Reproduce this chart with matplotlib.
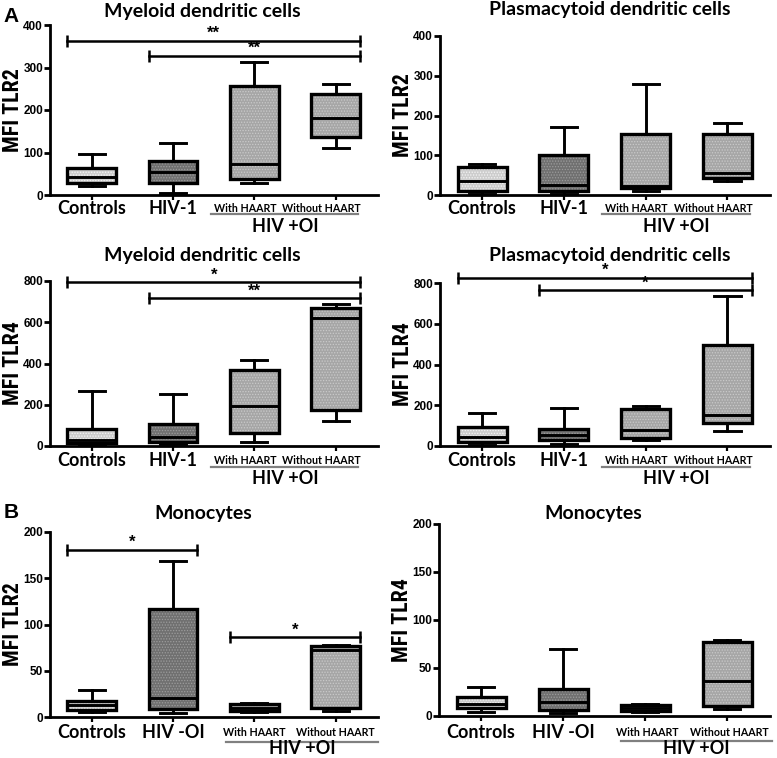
import matplotlib
matplotlib.use("Agg")
import matplotlib.pyplot as plt
from matplotlib.transforms import ScaledTranslation
from matplotlib import font_manager

W, H = 777, 758
fig = plt.figure(figsize=(W / 100, H / 100), dpi=100)

def fx(px):
    return px / W

def fy(py):
    return 1 - py / H

# ---------------- data ----------------
groups_dc = ["Controls", "HIV-1", "With HAART", "Without HAART"]
groups_mono = ["Controls", "HIV -OI", "With HAART", "Without HAART"]

# panel A1: myeloid DC, TLR2
mdc_tlr2_lo = [21, 4, 29, 110]
mdc_tlr2_q1 = [29, 29, 37, 137]
mdc_tlr2_med = [43, 53, 73, 182]
mdc_tlr2_q3 = [63, 81, 256, 237]
mdc_tlr2_hi = [96, 122, 313, 261]

# panel A2: plasmacytoid DC, TLR2
pdc_tlr2_lo = [3, 3, 11, 34]
pdc_tlr2_q1 = [11, 11, 17, 42]
pdc_tlr2_med = [35, 25, 23, 55]
pdc_tlr2_q3 = [71, 100, 153, 153]
pdc_tlr2_hi = [77, 172, 278, 180]

# panel A3: myeloid DC, TLR4
mdc_tlr4_lo = [5, 10, 21, 121]
mdc_tlr4_q1 = [13, 18, 61, 174]
mdc_tlr4_med = [29, 45, 195, 622]
mdc_tlr4_q3 = [82, 105, 368, 670]
mdc_tlr4_hi = [268, 252, 417, 688]

# panel A4: plasmacytoid DC, TLR4
pdc_tlr4_lo = [5, 8, 29, 73]
pdc_tlr4_q1 = [18, 29, 38, 114]
pdc_tlr4_med = [46, 55, 78, 152]
pdc_tlr4_q3 = [95, 82, 180, 498]
pdc_tlr4_hi = [163, 188, 198, 736]

# panel B1: monocytes, TLR2
mono_tlr2_lo = [5.4, 4.3, 5.4, 7]
mono_tlr2_q1 = [8, 9, 7, 10]
mono_tlr2_med = [12.6, 21, 10, 72]
mono_tlr2_q3 = [17, 117, 13.7, 77]
mono_tlr2_hi = [29.5, 169, 15.5, 78]

# panel B2: monocytes, TLR4
mono_tlr4_lo = [4.5, 3, 4.5, 7.3]
mono_tlr4_q1 = [8, 6, 5.6, 10]
mono_tlr4_med = [13, 15, 8, 36]
mono_tlr4_q3 = [20, 28.5, 11.5, 77]
mono_tlr4_hi = [30.6, 69.6, 13, 79]

# significance brackets: (from group, to group, height, label)
sig_mdc_tlr2 = [(0, 3, 363, "**"), (1, 3, 328, "**")]
sig_mdc_tlr4 = [(0, 3, 793, "*"), (1, 3, 716, "**")]
sig_pdc_tlr4 = [(0, 3, 826, "*"), (1, 3, 764, "*")]
sig_mono_tlr2 = [(0, 1, 181, "*"), (2, 3, 86, "*")]

yticks_400 = [0, 100, 200, 300, 400]
yticks_800 = [0, 200, 400, 600, 800]
yticks_200 = [0, 50, 100, 150, 200]

# ---------------- styling ----------------
box_faces = ["#cdcdcd", "#707070", "#a6a6a6", "#a6a6a6"]
hatch_cols = ["#f4f4f4", "#9c9c9c", "#cacaca", "#cacaca"]
plt.rcParams["hatch.linewidth"] = 0.6

ARIAL = ["Liberation Sans", "DejaVu Sans"]
LAB_FONT = ["Lato", "DejaVu Sans"]

_installed = {f.name for f in font_manager.fontManager.ttflist}
NARROW = ARIAL
for cand in ["Liberation Sans Narrow", "DejaVu Sans Condensed", "Roboto Condensed"]:
    if cand in _installed:
        NARROW = [cand, "DejaVu Sans"]
        break

# size the y-axis label so that it is ~84 px long, like the reference
_r = fig.canvas.get_renderer()
_probe = fig.text(0, 0, "MFI TLR2", fontsize=16, fontweight="bold", family=NARROW)
_w = _probe.get_window_extent(_r).width
_probe.remove()
YLAB_SIZE = min(17.5, 16 * 84 / _w)


def panel(rect_px, lo, q1, med, q3, hi, labels, yticks, ylabel,
          sigs, ol_span, ol_off, lab_off, small_shift, title, title_px):
    left, top, right, bottom = rect_px
    ax = fig.add_axes([fx(left), fy(bottom), fx(right - left), (bottom - top) / H])
    stats = []
    for i in range(len(labels)):
        stats.append(dict(whislo=lo[i], q1=q1[i], med=med[i], q3=q3[i], whishi=hi[i]))
    bp = ax.bxp(stats, positions=range(len(labels)), widths=0.6,
                showfliers=False, patch_artist=True,
                boxprops=dict(linewidth=2.4, edgecolor="black"),
                whiskerprops=dict(linewidth=2.1, color="black"),
                capprops=dict(linewidth=2.1, color="black"),
                medianprops=dict(linewidth=2.1, color="black"),
                capwidths=0.32)
    for i, b in enumerate(bp["boxes"]):
        b.set_facecolor(box_faces[i])
        b.set_hatch("......")
        b.set_edgecolor("black")
        b._hatch_color = matplotlib.colors.to_rgba(hatch_cols[i])
    ax.set_xlim(-0.514, 3.52)
    ax.set_ylim(yticks[0], yticks[-1])
    ax.set_yticks(yticks)
    ax.set_yticklabels([str(t) for t in yticks], fontsize=8.5, family=ARIAL,
                       weight="bold")
    ax.set_xticks(range(len(labels)))
    ax.set_xticklabels(labels)
    ax.tick_params(axis="x", length=5 * 0.72, width=1.6,
                   pad=(lab_off - 5) * 0.72)
    for j, t in enumerate(ax.get_xticklabels()):
        t.set_family(LAB_FONT)
        t.set_weight("bold")
        t.set_va("center")
        if j < 2:
            t.set_fontsize(13)
        else:
            t.set_fontsize(7.7)
            dx = small_shift[j - 2] / 100.0
            t.set_transform(t.get_transform()
                            + ScaledTranslation(dx, 0, fig.dpi_scale_trans))
    for s in ["top", "right"]:
        ax.spines[s].set_visible(False)
    for s in ["left", "bottom"]:
        ax.spines[s].set_linewidth(2.0)
    ax.tick_params(axis="y", length=4, width=2.0, pad=1)
    ax.set_ylabel(ylabel, fontsize=YLAB_SIZE, fontweight="bold", family=NARROW)
    ax.yaxis.set_label_coords(-26 / (right - left), 0.5)
    # significance brackets
    for a, b2, h, txt in sigs:
        ax.plot([a - 0.3, b2 + 0.3], [h, h], color="black", lw=1.8,
                marker="|", markersize=9, mew=1.8, clip_on=False)
        ax.text((a + b2) / 2, h, txt, ha="center", va="bottom",
                fontsize=12, fontweight="bold", clip_on=False, family=ARIAL)
    # grouping line for HIV +OI
    axh = bottom - top
    trans = ax.get_xaxis_transform()
    ax.plot(ol_span, [-ol_off[0] / axh] * 2, color="#808080", lw=1.6,
            transform=trans, clip_on=False)
    ax.text(sum(ol_span) / 2, -ol_off[1] / axh, "HIV +OI", transform=trans,
            ha="center", va="center", fontsize=13, fontweight="bold",
            family=LAB_FONT)
    fig.text(fx(title_px[0]), fy(title_px[1]), title, ha="center", va="center",
             fontsize=14, fontweight="bold", family=LAB_FONT)
    return ax


panel((50, 25, 378, 195), mdc_tlr2_lo, mdc_tlr2_q1, mdc_tlr2_med, mdc_tlr2_q3,
      mdc_tlr2_hi, groups_dc, yticks_400, "MFI TLR2", sig_mdc_tlr2,
      (1.47, 3.28), (19, 31), 13, (-9, -14), "Myeloid dendritic cells", (202, 11))
panel((440, 36, 770, 195), pdc_tlr2_lo, pdc_tlr2_q1, pdc_tlr2_med, pdc_tlr2_q3,
      pdc_tlr2_hi, groups_dc, yticks_400, "MFI TLR2", [],
      (1.47, 3.28), (19, 31), 13, (-9, -14), "Plasmacytoid dendritic cells", (610, 10))
panel((50, 281, 378, 446), mdc_tlr4_lo, mdc_tlr4_q1, mdc_tlr4_med, mdc_tlr4_q3,
      mdc_tlr4_hi, groups_dc, yticks_800, "MFI TLR4", sig_mdc_tlr4,
      (1.47, 3.28), (21, 33), 14, (-9, -14), "Myeloid dendritic cells", (202, 255))
panel((440, 283, 770, 446), pdc_tlr4_lo, pdc_tlr4_q1, pdc_tlr4_med, pdc_tlr4_q3,
      pdc_tlr4_hi, groups_dc, yticks_800, "MFI TLR4", sig_pdc_tlr4,
      (1.47, 3.28), (21, 33), 14, (-9, -14), "Plasmacytoid dendritic cells", (610, 255))
panel((50, 532, 378, 717), mono_tlr2_lo, mono_tlr2_q1, mono_tlr2_med, mono_tlr2_q3,
      mono_tlr2_hi, groups_mono, yticks_200, "MFI TLR2", sig_mono_tlr2,
      (1.65, 3.52), (25, 32), 16, (0, 0), "Monocytes", (203, 513))
panel((439, 524, 770, 716), mono_tlr4_lo, mono_tlr4_q1, mono_tlr4_med, mono_tlr4_q3,
      mono_tlr4_hi, groups_mono, yticks_200, "MFI TLR4", [],
      (1.70, 3.54), (25, 32), 16, (2, 2), "Monocytes", (593, 513))

fig.text(fx(11), fy(16), "A", ha="center", va="center", fontsize=15,
         fontweight="bold", family=ARIAL)
fig.text(fx(11), fy(512), "B", ha="center", va="center", fontsize=15,
         fontweight="bold", family=ARIAL)

fig.savefig("out.png", dpi=100)
